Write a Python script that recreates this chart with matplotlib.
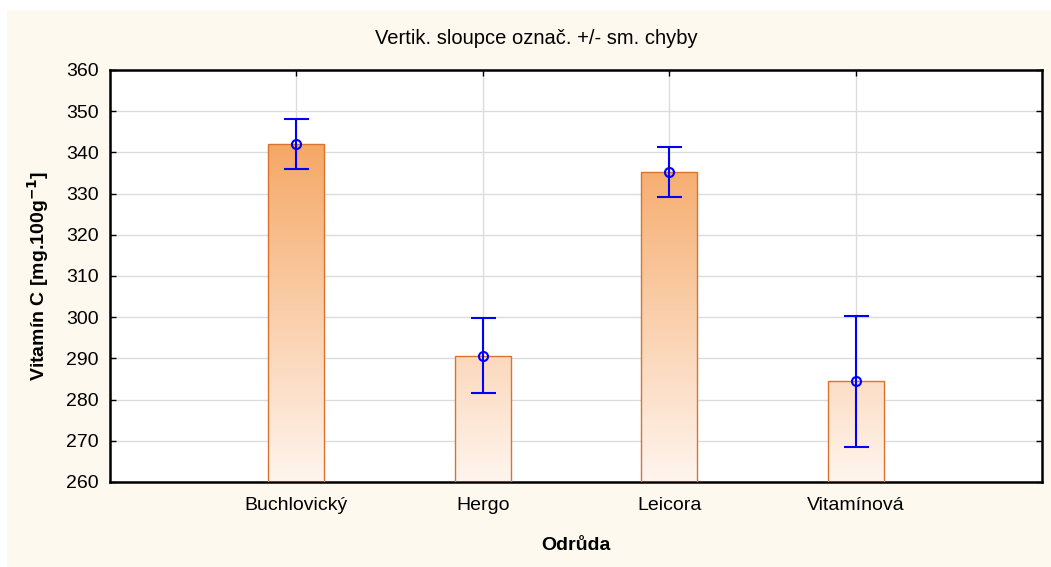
import numpy as np
import matplotlib.pyplot as plt
from matplotlib.colors import LinearSegmentedColormap
from matplotlib.patches import Rectangle

plt.rcParams['font.family'] = ['Liberation Sans', 'DejaVu Sans']

odrudy = ['Buchlovický', 'Hergo', 'Leicora', 'Vitamínová']
prumer = [342.0, 290.7, 335.3, 284.5]
sm_chyba = [6.0, 9.0, 6.1, 15.9]

W, H = 1051, 567
fig = plt.figure(figsize=(W / 100, H / 100), dpi=100, facecolor='white')
fig.patches.append(Rectangle((7 / W, 0), 1, 1 - 10 / H, transform=fig.transFigure,
                             facecolor='#FEF9EE', edgecolor='none', zorder=-10))
ax = fig.add_axes([110 / W, 1 - 482 / H, 932 / W, 412 / H])
ax.set_facecolor('white')

x = np.arange(1, len(odrudy) + 1)
sirka = 0.3
cmap = LinearSegmentedColormap.from_list('oranz', [(0, '#FFF5EE'), (0.82, '#F5A866'), (1, '#F29A50')])
grad = np.linspace(0, 1, 256).reshape(-1, 1)

bars = ax.bar(x, np.array(prumer) - 260, bottom=260, width=sirka, facecolor='none',
              edgecolor='#D9732E', linewidth=1.0, zorder=3)
for b in bars:
    im = ax.imshow(grad, cmap=cmap, origin='lower', aspect='auto',
                   extent=[b.get_x(), b.get_x() + b.get_width(), 260, 360], zorder=2)
    im.set_clip_path(b)

ax.errorbar(x, prumer, yerr=sm_chyba, fmt='o', color='#0000FF', mfc='none', mec='#0000FF',
            ms=6.5, mew=1.5, elinewidth=1.5, capsize=9, capthick=1.5, zorder=5)

ax.set_xlim(0, 5)
ax.set_ylim(260, 360)
ax.set_xticks(x)
ax.set_xticklabels(odrudy)
ax.set_yticks(np.arange(260, 361, 10))
ax.grid(True, color='#DCDCDC', linewidth=1.0, zorder=0)
ax.set_axisbelow(True)
ax.tick_params(direction='in', top=True, right=True, length=4, width=1, labelsize=14)
ax.tick_params(axis='x', pad=11)
ax.tick_params(axis='y', pad=8)
for s in ax.spines.values():
    s.set_linewidth(1.8)

fig.text(536 / W, 1 - 38 / H, 'Vertik. sloupce označ. +/- sm. chyby', fontsize=14.5,
         ha='center', va='center')
ax.set_xlabel('Odrůda', fontsize=14, fontweight='bold', labelpad=16)
ax.set_ylabel('Vitamín C [mg.100g$^{\\mathbf{-1}}$]', fontsize=14, fontweight='bold', labelpad=11)

fig.savefig('out.png', dpi=100, facecolor=fig.get_facecolor())
